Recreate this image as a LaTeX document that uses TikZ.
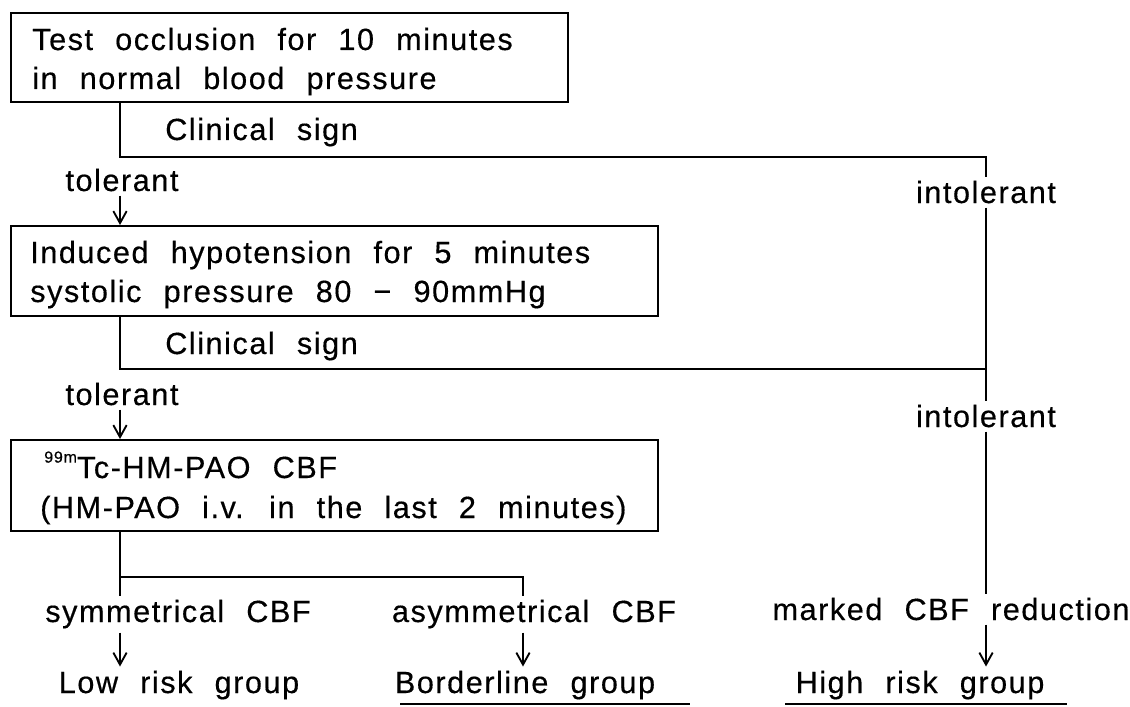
\documentclass[tikz,border=0pt]{standalone}
\usepackage{fontspec}
\setmainfont{Liberation Sans}[LetterSpace=5,WordSpace=2.2,FakeBold=0.4]
\usetikzlibrary{arrows.meta}

\tikzset{
  box/.style={draw, line width=1.4pt, anchor=north west, inner sep=0pt},
  txt/.style={anchor=base west, inner sep=0pt},
  lbl/.style={anchor=base, inner sep=3pt},
  link/.style={line width=1.4pt},
  flow/.style={line width=1.4pt, -{Straight Barb[length=9pt, width=10pt]}}
}

\begin{document}
\begin{tikzpicture}[x=0.75pt, y=-0.75pt, every node/.style={font=\fontsize{23}{29}\selectfont}]

  \def\px{0.75pt}
  \useasboundingbox (0,0) rectangle (1130,706);

  % boxes
  \node[box, minimum width=557*\px, minimum height=89*\px] (occl) at (10,12) {};
  \node[box, minimum width=647*\px, minimum height=90*\px] (hypo) at (10,225) {};
  \node[box, minimum width=647*\px, minimum height=91*\px] (cbf) at (10,439) {};

  \node[txt] (occlA) at (32,50) {Test occlusion for 10 minutes};
  \node[txt] (occlB) at (32,89) {in normal blood pressure};
  \node[txt] (hypoA) at (30,263) {Induced hypotension for 5 minutes};
  \node[txt] (hypoB) at (30,302) {systolic pressure 80 − 90mmHg};
  \node[txt] (cbfA) at (44,478) {\raisebox{0.95ex}{\fontsize{12}{12}\selectfont 99m}Tc-HM-PAO CBF};
  \node[txt] (cbfB) at (40,518) {(HM-PAO i.v. in the last 2 minutes)};

  % labels
  \node[txt] (sign1) at (165,140) {Clinical sign};
  \node[txt] (sign2) at (165,354) {Clinical sign};
  \node[lbl] (tol1) at (122,191) {tolerant};
  \node[lbl] (tol2) at (122,405) {tolerant};
  \node[lbl] (intol1) at (986,203) {intolerant};
  \node[lbl] (intol2) at (986,427) {intolerant};
  \node[lbl] (sym) at (178,622) {symmetrical CBF};
  \node[lbl] (asym) at (534,622) {asymmetrical CBF};
  \node[lbl] (marked) at (951,620) {marked CBF reduction};
  \node[lbl] (low) at (179,693) {Low risk group};
  \node[lbl] (border) at (525,693) {Borderline group};
  \node[lbl] (high) at (920,693) {High risk group};

  \coordinate (j1) at (120,157);
  \coordinate (j2) at (120,369);
  \coordinate (j3) at (120,577);
  \coordinate (j4) at (523,577);

  % connectors
  \draw[link] (occl.south -| j1) -- (j1) -- (j1 -| intol1) -- (intol1.north);
  \draw[flow] (tol1.south -| j1) -- (hypo.north -| j1);
  \draw[link] (intol1.south) -- (intol2.north);
  \draw[link] (hypo.south -| j2) -- (j2) -- (j2 -| intol1);
  \draw[flow] (tol2.south -| j2) -- (cbf.north -| j2);
  \draw[link] (cbf.south -| j3) -- (j3) -- (j4) -- (asym.north -| j4);
  \draw[link] (j3) -- (sym.north -| j3);
  \draw[link] (intol2.south) -- (marked.north -| intol2);
  \draw[flow] (sym.south -| j3) -- (low.north -| j3);
  \draw[flow] (asym.south -| j4) -- (border.north -| j4);
  \draw[flow] (marked.south -| intol2) -- (high.north -| intol2);

  \draw[link] (400,704) -- (690,704);
  \draw[link] (785,704) -- (1067,704);

\end{tikzpicture}
\end{document}
